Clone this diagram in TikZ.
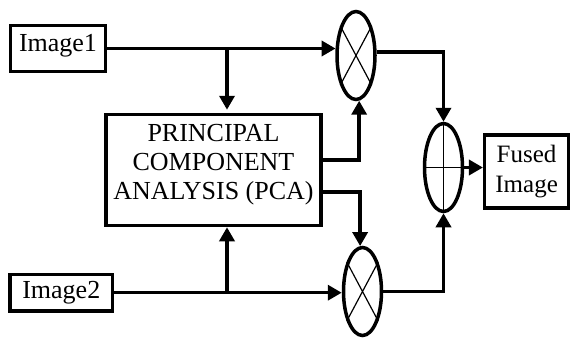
\documentclass[tikz,border=0pt]{standalone}
\usepackage{fontspec}
\setmainfont{Liberation Serif}
\usetikzlibrary{arrows.meta,shapes.geometric}
\begin{document}
\begin{tikzpicture}[x=1pt,y=-1pt,
  blockbox/.style={draw, rectangle, line width=3.5pt, inner sep=0pt, fill=white},
  mixer/.style={draw, ellipse, line width=3.5pt, inner sep=0pt, fill=white,
                minimum width=38pt, minimum height=88pt},
  flow/.style={line width=3.5pt, -{Triangle[length=14pt,width=15pt]}},
  thinmark/.style={line width=1.2pt},
  bigtext/.style={font=\fontsize{26}{29}\selectfont},
  midtext/.style={font=\fontsize{25}{30}\selectfont}]
\useasboundingbox (0,0) rectangle (570,338);

% input images
\node[blockbox, bigtext, minimum width=94.6pt, minimum height=45.6pt, text depth=11pt]
  (img1) at (58,48.5) {Image1};
\node[blockbox, bigtext, minimum width=102.7pt, minimum height=36.7pt]
  (img2) at (61.3,292.7) {Image2};

% PCA block
\node[blockbox, minimum width=215pt, minimum height=111pt] (pca) at (213.5,170) {};
\node[bigtext, align=center, inner sep=0pt] (pcatext) at (213.5,164.5)
  {PRINCIPAL\\COMPONENT\\ANALYSIS (PCA)};

% multipliers and adder
\node[mixer] (m1) at (356,55.5) {};
\node[mixer] (m2) at (362.5,291.5) {};
\node[mixer] (add) at (443.5,167.5) {};

% output
\node[blockbox, midtext, align=center, minimum width=83.8pt, minimum height=73.3pt]
  (fused) at (526.6,171.4) {Fused\\Image};

% symbols inside the circles
\draw[thinmark] (m1.62) -- (m1.242) (m1.118) -- (m1.298);
\draw[thinmark] (m2.62) -- (m2.242) (m2.118) -- (m2.298);
\draw[thinmark] (add.north) -- (add.south) (add.west) -- (add.east);

% branch points and output rows
\coordinate (j1) at (227,48.5);
\coordinate (j2) at (227,292.7);
\coordinate (rowA) at (0,160);
\coordinate (rowB) at (0,192);

% connections
\draw[flow] (img1.east) -- (img1.east -| m1.158);
\draw[flow, shorten >=3pt] (j1) -- (j1 |- pca.north);
\draw[flow] (img2.east) -- (img2.east -| m2.west);
\draw[flow] (j2) -- (j2 |- pca.south);
\draw[flow] (pca.east |- rowA) -| (m1.274);
\draw[flow] (pca.east |- rowB) -| (m2.93);
\draw[flow] (m1.10) -| (add.north);
\draw[flow] (m2.east) -| (add.south);
\draw[flow] (add.east) -- (add.east -| fused.west);
\end{tikzpicture}
\end{document}
